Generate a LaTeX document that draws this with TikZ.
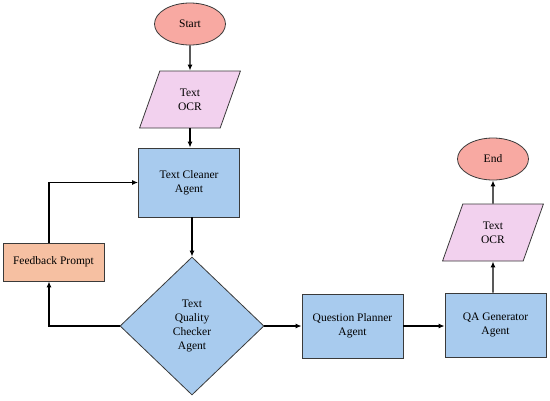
\documentclass[tikz,border=0pt]{standalone}
\usepackage{fontspec}
\setmainfont{Liberation Serif}
\usetikzlibrary{arrows.meta,shapes.geometric}
\definecolor{termfill}{HTML}{F8A9A2}
\definecolor{iofill}{HTML}{F2D1EE}
\definecolor{agentfill}{HTML}{A8CBEE}
\definecolor{fbfill}{HTML}{F6C0A2}
\definecolor{edgegray}{HTML}{3A3A3A}
\tikzset{
  base/.style={draw=edgegray,line width=0.8pt,align=center,font=\fontsize{11.5}{14}\selectfont,inner sep=1pt},
  term/.style={base,ellipse,fill=termfill,minimum width=71pt,minimum height=42pt},
  iobox/.style={base,trapezium,trapezium left angle=70,trapezium right angle=110,trapezium stretches=true,fill=iofill,minimum width=101pt,minimum height=57pt},
  agent/.style={base,rectangle,fill=agentfill,minimum width=101pt,minimum height=64pt},
  check/.style={base,diamond,fill=agentfill,minimum width=144pt,minimum height=138pt},
  fbbox/.style={base,rectangle,fill=fbfill,minimum width=101pt,minimum height=38pt},
  flow/.style={-{Latex[length=6pt,width=5pt]},line width=1.2pt,black}
}
\begin{document}
\begin{tikzpicture}[x=1pt,y=-1pt]
\useasboundingbox (0,0) rectangle (550,400);
% left column
\node[term] (start) at (190,24) {Start};
\node[iobox] (ocrA) at (190,99.5) {Text\\OCR};
\node[agent,minimum height=69pt] (clean) at (189,182.5) {Text Cleaner\\Agent};
\node[fbbox] (fb) at (53.5,262) {Feedback Prompt};
\node[check] (qc) at (192,326) {Text\\Quality\\Checker\\Agent};
% right part
\node[agent] (plan) at (352.5,326) {Question Planner\\Agent};
\node[agent] (gen) at (495.5,325) {QA Generator\\Agent};
\node[iobox] (ocrB) at (493,232.5) {Text\\OCR};
\node[term] (finish) at (493,159) {End};
\coordinate (loop) at (49,0);
% connectors
\draw[flow] (start) -- (ocrA);
\draw[flow] (ocrA.south) -- (ocrA.south |- clean.north);
\draw[flow] (qc.north |- clean.south) -- (qc.north);
\draw[flow] (qc.west) -| (fb.south -| loop);
\draw[flow] (fb.north -| loop) |- (clean.west);
\draw[flow] (qc.east) -- (plan.west);
\draw[flow] (plan.east) -- (gen.west |- plan.east);
\draw[flow] (gen.north -| ocrB) -- (ocrB.south);
\draw[flow] (ocrB) -- (finish);
\end{tikzpicture}
\end{document}
